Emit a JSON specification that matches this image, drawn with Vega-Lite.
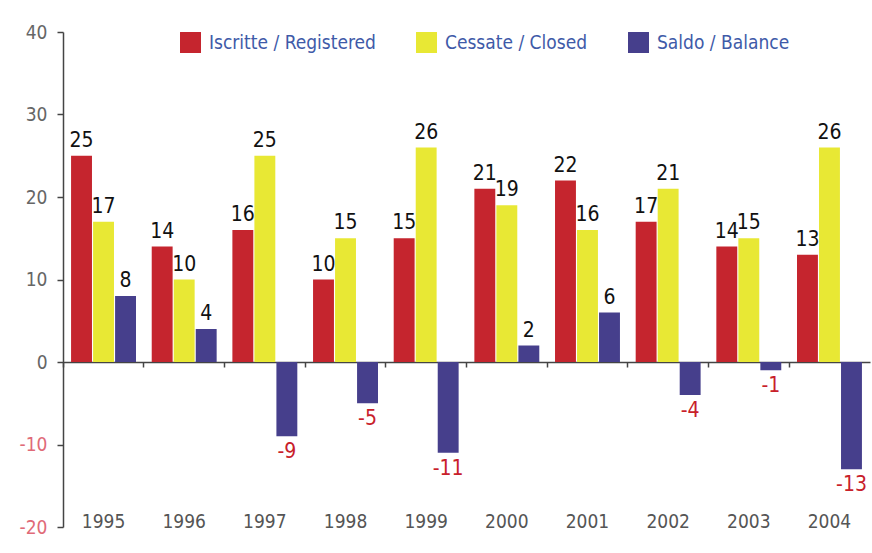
{
  "$schema": "https://vega.github.io/schema/vega-lite/v6.json",
  "width": 807,
  "height": 495,
  "autosize": {"type": "none"},
  "padding": {"left": 63, "top": 32, "right": 2, "bottom": 26},
  "background": "white",
  "config": {
    "view": {"stroke": null},
    "font": "DejaVu Sans Condensed, sans-serif"
  },
  "data": {
    "values": [
      {"year": "1995", "series": "Iscritte / Registered", "value": 25},
      {"year": "1995", "series": "Cessate / Closed", "value": 17},
      {"year": "1995", "series": "Saldo / Balance", "value": 8},
      {"year": "1996", "series": "Iscritte / Registered", "value": 14},
      {"year": "1996", "series": "Cessate / Closed", "value": 10},
      {"year": "1996", "series": "Saldo / Balance", "value": 4},
      {"year": "1997", "series": "Iscritte / Registered", "value": 16},
      {"year": "1997", "series": "Cessate / Closed", "value": 25},
      {"year": "1997", "series": "Saldo / Balance", "value": -9},
      {"year": "1998", "series": "Iscritte / Registered", "value": 10},
      {"year": "1998", "series": "Cessate / Closed", "value": 15},
      {"year": "1998", "series": "Saldo / Balance", "value": -5},
      {"year": "1999", "series": "Iscritte / Registered", "value": 15},
      {"year": "1999", "series": "Cessate / Closed", "value": 26},
      {"year": "1999", "series": "Saldo / Balance", "value": -11},
      {"year": "2000", "series": "Iscritte / Registered", "value": 21},
      {"year": "2000", "series": "Cessate / Closed", "value": 19},
      {"year": "2000", "series": "Saldo / Balance", "value": 2},
      {"year": "2001", "series": "Iscritte / Registered", "value": 22},
      {"year": "2001", "series": "Cessate / Closed", "value": 16},
      {"year": "2001", "series": "Saldo / Balance", "value": 6},
      {"year": "2002", "series": "Iscritte / Registered", "value": 17},
      {"year": "2002", "series": "Cessate / Closed", "value": 21},
      {"year": "2002", "series": "Saldo / Balance", "value": -4},
      {"year": "2003", "series": "Iscritte / Registered", "value": 14},
      {"year": "2003", "series": "Cessate / Closed", "value": 15},
      {"year": "2003", "series": "Saldo / Balance", "value": -1},
      {"year": "2004", "series": "Iscritte / Registered", "value": 13},
      {"year": "2004", "series": "Cessate / Closed", "value": 26},
      {"year": "2004", "series": "Saldo / Balance", "value": -13}
    ]
  },
  "encoding": {
    "x": {
      "field": "year", "type": "nominal",
      "scale": {"paddingInner": 0.195, "paddingOuter": 0.1},
      "axis": {
        "title": null, "orient": "bottom", "offset": -165,
        "domainColor": "#444", "domainWidth": 1.5,
        "tickColor": "#444", "tickWidth": 1.5, "tickSize": 5,
        "bandPosition": -0.12,
        "labelPadding": 145, "labelAngle": 0,
        "labelFontSize": 19, "labelColor": "#555"
      }
    },
    "xOffset": {
      "field": "series", "type": "nominal",
      "scale": {"domain": ["Iscritte / Registered", "Cessate / Closed", "Saldo / Balance"], "paddingInner": 0.05}
    },
    "y": {
      "field": "value", "type": "quantitative",
      "scale": {"domain": [-20, 40], "nice": false, "zero": true},
      "axis": {
        "title": null, "values": [-20, -10, 0, 10, 20, 30, 40],
        "grid": false,
        "domainColor": "#444", "domainWidth": 1.5,
        "tickColor": "#444", "tickWidth": 1.5, "tickSize": 6,
        "labelPadding": 10, "labelFontSize": 19,
        "labelExpr": "'' + datum.value",
        "labelColor": {"condition": {"test": "datum.value < 0", "value": "#E06A78"}, "value": "#666666"}
      }
    }
  },
  "layer": [
    {
      "mark": {"type": "bar"},
      "encoding": {
        "color": {
          "field": "series", "type": "nominal",
          "scale": {
            "domain": ["Iscritte / Registered", "Cessate / Closed", "Saldo / Balance"],
            "range": ["#C5252E", "#E8E834", "#463F8C"]
          },
          "legend": {
            "title": null, "orient": "none", "direction": "horizontal",
            "legendX": 117, "legendY": 0,
            "symbolType": "square", "symbolSize": 440, "symbolStrokeWidth": 0,
            "symbolOpacity": 1,
            "labelFontSize": 19, "labelColor": "#3E5AA8",
            "labelOffset": 8, "columnPadding": 40, "labelLimit": 300
          }
        }
      }
    },
    {
      "transform": [{"filter": "datum.value >= 0"}],
      "mark": {"type": "text", "baseline": "bottom", "dy": -5, "fontSize": 21, "color": "#111"},
      "encoding": {"text": {"field": "value", "type": "nominal"}}
    },
    {
      "transform": [{"filter": "datum.value < 0"}],
      "mark": {"type": "text", "baseline": "top", "dy": 5, "fontSize": 21, "color": "#C8202A"},
      "encoding": {"text": {"field": "value", "type": "nominal"}}
    }
  ]
}
